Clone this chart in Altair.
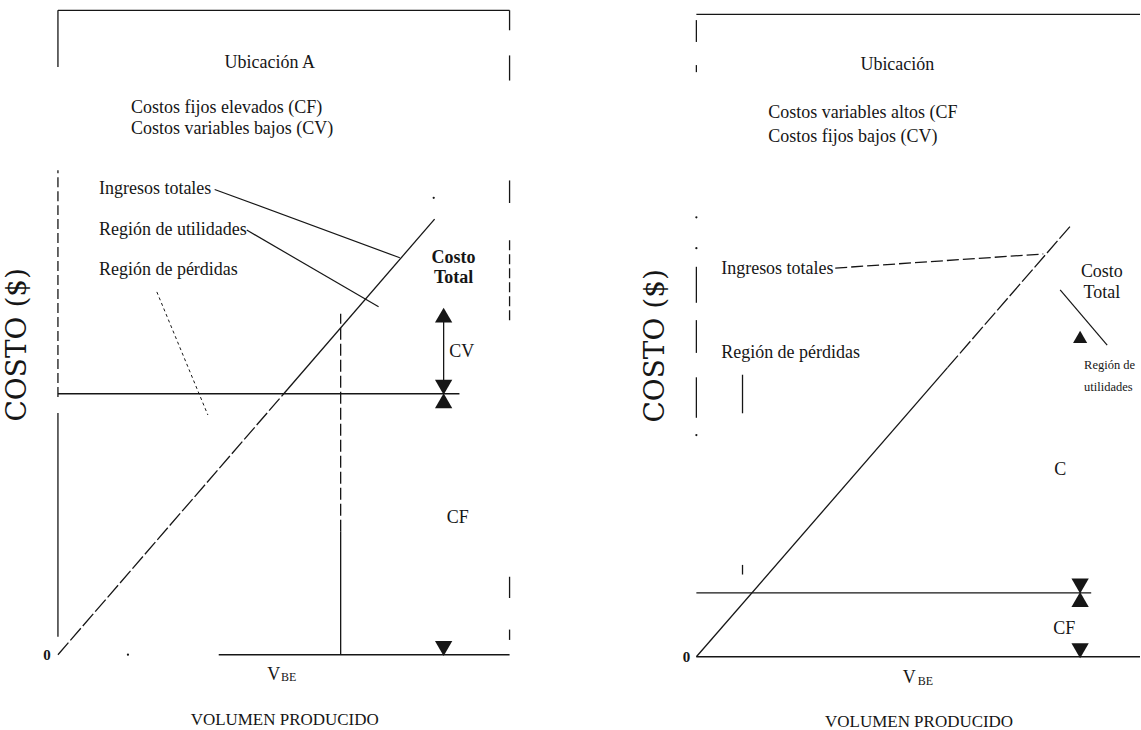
import altair as alt
import pandas as pd

FONT = "Liberation Serif"
INK = "#161616"

# ---------------- Ubicación A (left) : volume 0-100 (x), cost 0-100 (y) ----------------
A_frame_solid = [
    (0, 100, 100, 100),
    (0, 2.8, 0, 37.5), (0, 91.2, 0, 100),
    (100, 96.9, 100, 100), (100, 89.1, 100, 93.0), (100, 70.1, 100, 73.6),
    (100, 8.8, 100, 12.1), (100, 2.3, 100, 3.9),
    (35.6, 0, 100, 0),
]
A_frame_dashed = [(0, 40.0, 0, 75.2), (100, 51.9, 100, 64.8)]
A_fixed_cost = [(0, 40.5, 88.9, 40.5)]
A_total_solid = [(50.0, 40.5, 83.4, 67.6)]
A_total_dashed = [(0, 0, 50.0, 40.5)]
A_vbe_solid = [(62.6, 0, 62.6, 19.1)]
A_vbe_dashed = [(62.6, 19.1, 62.6, 52.9)]
A_cv_shaft = [(85.4, 42.3, 85.4, 51.8)]
A_leaders = [(34.7, 72.2, 75.7, 61.6), (41.8, 65.9, 71.0, 54.0)]
A_leader_dotted = [(21.9, 56.3, 33.2, 37.2)]
A_tri_up = [(85.4, 52.7), (85.4, 39.4)]
A_tri_down = [(85.4, 41.5), (85.4, 0.95)]
A_specks = [(15.5, 0), (83.2, 70.9)]
A_text_center = [
    (46.9, 91.9, "Ubicación A", 18),
    (89.4, 47.0, "CV", 18),
    (88.5, 21.2, "CF", 18),
    (47.8, -3.1, "V", 18),
    (51.1, -3.5, "BE", 12),
    (50.2, -10.1, "VOLUMEN PRODUCIDO", 17),
]
A_text_bold = [(87.6, 61.6, "Costo", 18), (87.6, 58.4, "Total", 18), (-2.4, 0, "0", 15)]
A_text_left = [
    (16.2, 84.8, "Costos fijos elevados (CF)", 18),
    (16.2, 81.6, "Costos variables bajos (CV)", 18),
    (9.1, 72.2, "Ingresos totales", 18),
    (9.1, 65.9, "Región de utilidades", 18),
    (9.1, 59.7, "Región de pérdidas", 18),
]
A_text_rot = [(-8.85, 48.1, "COSTO ($)", 28)]

# ---------------- Ubicación (right) ----------------
B_frame_solid = [
    (0, 100, 100, 100),
    (0, 95.7, 0, 99.1), (0, 91.0, 0, 92.1), (0, 55.1, 0, 60.7),
    (0, 47.3, 0, 52.4), (0, 37.2, 0, 43.5),
    (10.4, 37.9, 10.4, 43.9), (10.4, 12.8, 10.4, 14.3),
    (0, 0, 100, 0),
]
B_frame_dashed = []
B_fixed_cost = [(0, 9.95, 89.0, 9.95)]
B_total_solid = [(0, 0, 56.6, 45.0)]
B_total_dashed = [(56.6, 45.0, 84.5, 67.2)]
B_vbe_solid = []
B_vbe_dashed = [(31.3, 60.5, 78.2, 62.7)]
B_cv_shaft = []
B_leaders = [(82.0, 57.1, 92.6, 48.5)]
B_leader_dotted = []
B_tri_up = [(86.5, 8.9)]
B_tri_down = [(86.5, 11.0), (86.5, 0.95)]
B_tri_small = [(86.5, 49.8)]
B_specks = [(0, 68.4), (0, 63.6), (0, 34.5)]
B_text_center = [
    (45.3, 92.1, "Ubicación", 18),
    (91.4, 59.9, "Costo", 18),
    (91.4, 56.6, "Total", 18),
    (82.0, 29.1, "C", 18),
    (82.9, 4.35, "CF", 18),
    (48.0, -3.3, "V", 18),
    (51.6, -3.7, "BE", 12),
    (50.2, -10.1, "VOLUMEN PRODUCIDO", 17),
]
B_text_bold = [(-2.25, 0, "0", 15)]
B_text_left = [
    (16.2, 84.6, "Costos variables altos (CF", 18),
    (16.2, 80.9, "Costos fijos bajos (CV)", 18),
    (5.6, 60.3, "Ingresos totales", 18),
    (5.6, 47.3, "Región de pérdidas", 18),
    (87.4, 45.4, "Región de", 12.5),
    (87.4, 42.0, "utilidades", 12.5),
]
B_text_rot = [(-9.2, 48.4, "COSTO ($)", 28)]


def segs(rows):
    return pd.DataFrame(rows, columns=["v1", "c1", "v2", "c2"])


def pts(rows):
    return pd.DataFrame(rows, columns=["v", "c"])


def txt(rows):
    return pd.DataFrame(rows, columns=["v", "c", "t", "s"])


def panel(p, xdom, ydom, width, height=730):
    X = lambda f: alt.X(f, type="quantitative", scale=alt.Scale(domain=xdom, nice=False, zero=False), axis=None)
    Y = lambda f: alt.Y(f, type="quantitative", scale=alt.Scale(domain=ydom, nice=False, zero=False), axis=None)
    layers = []

    def rule(rows, dash=None, w=1.3):
        if not rows:
            return
        kw = dict(color=INK, strokeWidth=w)
        if dash:
            kw["strokeDash"] = dash
        layers.append(alt.Chart(segs(rows)).mark_rule(**kw).encode(
            x=X("v1"), y=Y("c1"), x2="v2", y2="c2"))

    def tri(rows, shape, size=300):
        if not rows:
            return
        layers.append(alt.Chart(pts(rows)).mark_point(
            shape=shape, filled=True, size=size, color=INK, opacity=1).encode(x=X("v"), y=Y("c")))

    def text(rows, align="center", weight="normal", angle=0, font=FONT):
        if not rows:
            return
        kw = dict(font=font, align=align, baseline="middle", color=INK, fontWeight=weight)
        if angle:
            kw["angle"] = angle
        layers.append(alt.Chart(txt(rows)).mark_text(**kw).encode(
            x=X("v"), y=Y("c"), text="t:N", size=alt.Size("s:Q", scale=None)))

    rule(p["frame_solid"])
    rule(p["frame_dashed"], [10, 4])
    rule(p["fixed_cost"])
    rule(p["total_solid"])
    rule(p["total_dashed"], [16, 3])
    rule(p["vbe_solid"])
    rule(p["vbe_dashed"], [12, 4])
    rule(p["cv_shaft"])
    rule(p["leaders"], w=1.2)
    rule(p["leader_dotted"], [3, 3], w=1)
    tri(p["tri_up"], "triangle-up")
    tri(p["tri_down"], "triangle-down")
    tri(p.get("tri_small", []), "triangle-up", 200)
    if p["specks"]:
        layers.append(alt.Chart(pts(p["specks"])).mark_point(
            shape="circle", filled=True, size=5, color=INK, opacity=1).encode(x=X("v"), y=Y("c")))
    text(p["text_center"])
    text(p["text_bold"], weight="bold")
    text(p["text_left"], align="left")
    text(p["text_rot"], angle=270, font="DejaVu Serif")
    return alt.layer(*layers).properties(width=width, height=height)


A = dict(frame_solid=A_frame_solid, frame_dashed=A_frame_dashed, fixed_cost=A_fixed_cost,
         total_solid=A_total_solid, total_dashed=A_total_dashed, vbe_solid=A_vbe_solid,
         vbe_dashed=A_vbe_dashed, cv_shaft=A_cv_shaft, leaders=A_leaders,
         leader_dotted=A_leader_dotted, tri_up=A_tri_up, tri_down=A_tri_down,
         specks=A_specks, text_center=A_text_center, text_bold=A_text_bold,
         text_left=A_text_left, text_rot=A_text_rot)
B = dict(frame_solid=B_frame_solid, frame_dashed=B_frame_dashed, fixed_cost=B_fixed_cost,
         total_solid=B_total_solid, total_dashed=B_total_dashed, vbe_solid=B_vbe_solid,
         vbe_dashed=B_vbe_dashed, cv_shaft=B_cv_shaft, leaders=B_leaders,
         leader_dotted=B_leader_dotted, tri_up=B_tri_up, tri_down=B_tri_down,
         tri_small=B_tri_small, specks=B_specks, text_center=B_text_center,
         text_bold=B_text_bold, text_left=B_text_left, text_rot=B_text_rot)

left = panel(A, [-12.83, 113.27], [-11.63, 101.55], 570)
right = panel(B, [-28.60, 100.0], [-11.35, 102.18], 571)

chart = alt.hconcat(left, right, spacing=0, bounds="flush").properties(
    padding=0, background="white"
).configure_view(stroke=None)

chart.save("out.html", embed_options={"renderer": "svg", "actions": False})
